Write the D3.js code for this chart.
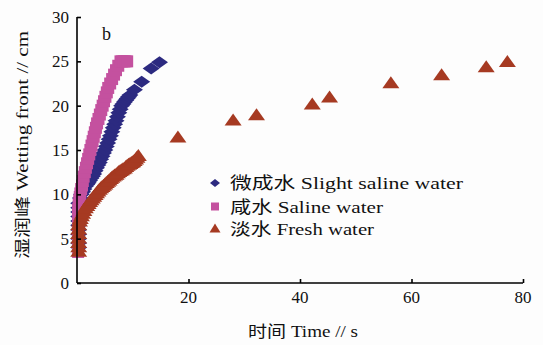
<!DOCTYPE html>
<html><head><meta charset="utf-8">
<script src="https://cdn.jsdelivr.net/npm/d3@7"></script>
<style>html,body{margin:0;padding:0;background:#fff;}svg{display:block;}</style>
</head><body>
<script>
// ---- data ----
const xTicks = [20, 40, 60, 80];
const yTicks = [0, 5, 10, 15, 20, 25, 30];
const seriesNames = ["微成水 Slight saline water", "咸水 Saline water", "淡水 Fresh water"];

const slightT = [0.3,0.3,0.3,0.3,0.3,0.3,0.3,0.3,0.3,0.3,0.3,0.6,0.8,1.0,1.25,1.5,1.75,2.0,2.25,2.5,2.75,3.0,3.25,3.5,3.75,4.0,4.25,4.5,4.75,5.0,5.25,5.5,5.75,6.0,6.25,6.5,6.75,7.0,7.25,7.5,7.75,8.0,8.25,8.5,8.75,9.0,9.25,9.5,10.3,11.6,13.3,14.8];
const slightY = [4.0,4.5,5.0,5.5,6.0,6.5,7.0,7.5,8.0,8.5,9.0,9.6,10.0,10.3,10.6,10.9,11.1,11.3,11.55,11.8,12.05,12.3,12.65,13.0,13.3,13.6,13.95,14.3,14.65,15.0,15.4,15.8,16.2,16.6,17.05,17.5,17.9,18.3,18.75,19.2,19.6,20.0,20.2,20.4,20.6,20.8,21.0,21.2,21.8,22.7,24.2,24.9];

const salineT = [0.2,0.2,0.2,0.2,0.2,0.2,0.2,0.3,0.4,0.5,0.6,0.75,0.9,1.05,1.2,1.4,1.6,1.8,2.0,2.2,2.4,2.6,2.8,3.0,3.2,3.4,3.6,3.85,4.1,4.35,4.6,4.85,5.1,5.35,5.6,5.95,6.3,6.65,7.0,7.4,7.8,8.1,8.4,8.7,9.0];
const salineY = [3.5,4.3,5.1,5.9,6.7,7.5,8.3,8.8,9.3,9.7,10.1,10.6,11.0,11.5,12.0,12.5,13.0,13.5,14.0,14.5,15.0,15.5,16.0,16.5,17.0,17.5,18.0,18.5,19.0,19.5,20.0,20.5,21.0,21.5,22.0,22.5,23.0,23.5,24.0,24.5,25.0,25.0,25.0,25.0,25.0];

const freshT = [0.3,0.3,0.3,0.3,0.3,0.3,0.3,0.45,0.6,0.8,1.0,1.25,1.5,1.75,2.0,2.25,2.5,2.75,3.0,3.25,3.5,3.75,4.0,4.25,4.5,4.75,5.0,5.25,5.5,5.75,6.0,6.25,6.5,6.75,7.0,7.25,7.5,7.75,8.0,8.25,8.5,8.75,9.0,9.25,9.5,9.75,10.0,10.25,10.5,10.75,11.0,18.1,28.0,32.2,42.2,45.3,56.3,65.4,73.4,77.2];
const freshY = [3.5,4.0,4.5,5.0,5.5,6.0,6.5,6.9,7.2,7.5,7.8,8.1,8.4,8.65,8.9,9.1,9.3,9.5,9.7,9.9,10.1,10.3,10.5,10.65,10.8,10.95,11.1,11.25,11.4,11.55,11.7,11.85,12.0,12.1,12.2,12.35,12.5,12.6,12.7,12.8,12.9,13.05,13.2,13.3,13.4,13.5,13.6,13.75,13.9,14.1,14.3,16.4,18.3,18.9,20.1,20.9,22.5,23.4,24.3,24.9];

// ---- chart ----
const W = 543, H = 345;
const svg = d3.select("body").append("svg").attr("width", W).attr("height", H);
svg.append("rect").attr("width", W).attr("height", H).attr("fill", "#fdfdfd");

const x = d3.scaleLinear().domain([0, 80]).range([77, 523]);
const y = d3.scaleLinear().domain([0, 30]).range([283, 17]);

const fontLatin = "'Liberation Serif','Times New Roman','Noto Sans CJK SC',serif";
const colors = ["#2c2a80", "#c4519f", "#a63a22"];

const shapes = {
  diamond: (w, h) => `M0,${-h/2}L${w/2},0L0,${h/2}L${-w/2},0Z`,
  square: (s) => `M${-s/2},${-s/2}h${s}v${s}h${-s}Z`,
  triangle: (w, h) => `M0,${-h*0.6}L${w/2},${h*0.4}L${-w/2},${h*0.4}Z`
};

function plot(ts, ys, path, color) {
  svg.append("g").selectAll("path").data(ts.map((t, i) => [t, ys[i]])).join("path")
    .attr("transform", d => `translate(${x(d[0])},${y(d[1])})`)
    .attr("d", path).attr("fill", color);
}
plot(slightT, slightY, shapes.diamond(17, 12), colors[0]);
plot(salineT, salineY, shapes.square(12), colors[1]);
plot(freshT, freshY, shapes.triangle(17, 12), colors[2]);

// axes
const yAxis = svg.append("g").attr("transform", `translate(${x(0)},0)`)
  .call(d3.axisRight(y).tickValues(yTicks).tickSize(4).tickFormat(""));
const xAxis = svg.append("g").attr("transform", `translate(0,${y(0)})`)
  .call(d3.axisTop(x).tickValues(xTicks).tickSize(4).tickFormat(""));
[yAxis, xAxis].forEach(g => {
  g.select(".domain").attr("stroke", "#000").attr("stroke-width", 1.6);
  g.selectAll(".tick line").attr("stroke", "#000").attr("stroke-width", 1.6);
});
yAxis.select(".domain").attr("d", `M0,${y(30)}V${y(0)}`);
xAxis.select(".domain").attr("d", `M${x(0)},0H${x(80)}`);

svg.append("g").selectAll("text").data(yTicks).join("text")
  .attr("x", 69).attr("y", d => y(d) + 6).attr("text-anchor", "end")
  .attr("font-family", fontLatin).attr("font-size", 17).attr("fill", "#111")
  .text(d => d);
svg.append("g").selectAll("text").data(xTicks).join("text")
  .attr("x", d => x(d)).attr("y", 303).attr("text-anchor", "middle")
  .attr("font-family", fontLatin).attr("font-size", 17).attr("fill", "#111")
  .text(d => d);

// titles
svg.append("text").attr("x", 248).attr("y", 337)
  .attr("font-family", fontLatin).attr("font-size", 16).attr("fill", "#111")
  .attr("textLength", 110).attr("lengthAdjust", "spacingAndGlyphs")
  .text("时间 Time // s");
svg.append("text").attr("transform", "translate(28,145) rotate(-90)")
  .attr("text-anchor", "middle")
  .attr("font-family", fontLatin).attr("font-size", 16).attr("fill", "#111")
  .attr("textLength", 228).attr("lengthAdjust", "spacingAndGlyphs")
  .text("湿润峰 Wetting front // cm");
svg.append("text").attr("x", 102).attr("y", 40)
  .attr("font-family", fontLatin).attr("font-size", 18).attr("fill", "#111")
  .text("b");

// legend
const legY = [183, 206.5, 229];
const legLen = [233, 153, 144];
const legShapes = [shapes.diamond(10, 8), shapes.square(8), shapes.triangle(11, 9)];
const leg = svg.append("g");
seriesNames.forEach((name, i) => {
  leg.append("path").attr("transform", `translate(215,${legY[i]})`)
    .attr("d", legShapes[i]).attr("fill", colors[i]);
  leg.append("text").attr("x", 230).attr("y", legY[i] + 6)
    .attr("font-family", fontLatin).attr("font-size", 17).attr("fill", "#111")
    .attr("textLength", legLen[i]).attr("lengthAdjust", "spacingAndGlyphs")
    .text(name);
});
</script>
</body></html>
